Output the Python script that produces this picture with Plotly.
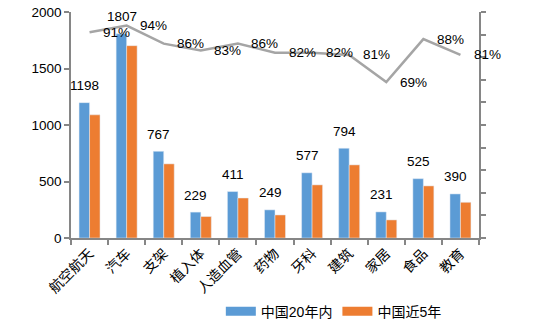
import plotly.graph_objects as go

categories = ["航空航天", "汽车", "支架", "植入体", "人造血管", "药物", "牙科", "建筑", "家居", "食品", "教育"]
china_20y = [1198, 1807, 767, 229, 411, 249, 577, 794, 231, 525, 390]
china_5y = [1090, 1702, 656, 190, 354, 204, 470, 647, 160, 461, 316]
share_pct = [91, 94, 86, 83, 86, 82, 82, 81, 69, 88, 81]
series_names = ["中国20年内", "中国近5年"]

BLUE = "#5b9bd5"
ORANGE = "#ed7d31"
GRAY_LINE = "#a5a5a5"
AXIS = "#868686"
FONT = "Liberation Sans, Noto Sans CJK SC, sans-serif"

fig = go.Figure()
fig.add_trace(go.Bar(x=categories, y=china_20y, marker_color=BLUE, showlegend=False, name=series_names[0]))
fig.add_trace(go.Bar(x=categories, y=china_5y, marker_color=ORANGE, showlegend=False, name=series_names[1]))
fig.add_trace(go.Scatter(x=categories, y=[p / 100 for p in share_pct], yaxis="y2", mode="lines",
                         line=dict(color=GRAY_LINE, width=2.5), showlegend=False, hoverinfo="skip"))
# legend entries
fig.add_trace(go.Scatter(x=[categories[0]], y=[None], mode="lines", line=dict(color=BLUE, width=9), name=series_names[0]))
fig.add_trace(go.Scatter(x=[categories[0]], y=[None], mode="lines", line=dict(color=ORANGE, width=9), name=series_names[1]))

annotations = []
for c, v in zip(categories, china_20y):
    annotations.append(dict(x=c, y=v, xref="x", yref="y", text=str(v), showarrow=False,
                            xshift=-5, yshift=17, font=dict(size=13.5, color="#000000", family=FONT)))
for c, p in zip(categories, share_pct):
    annotations.append(dict(x=c, y=p / 100, xref="x", yref="y2", text=f"{p}%", showarrow=False,
                            xshift=27, yshift=0, font=dict(size=13.5, color="#000000", family=FONT)))

fig.update_layout(
    width=536, height=323,
    margin=dict(l=71, r=57, t=12, b=85, autoexpand=False),
    paper_bgcolor="white", plot_bgcolor="white",
    barmode="group", bargap=0.434, bargroupgap=0,
    font=dict(family=FONT, size=13, color="#000000"),
    xaxis=dict(type="category", categoryorder="array", categoryarray=categories,
               range=[-0.5, len(categories) - 0.5],
               showline=True, linecolor=AXIS, linewidth=1.5, automargin=False,
               ticks="outside", tickson="boundaries", ticklen=5, tickcolor=AXIS, tickwidth=1.5,
               tickangle=-45, tickfont=dict(size=14, color="#000000"), showgrid=False),
    yaxis=dict(range=[0, 2000], dtick=500, showline=True, linecolor=AXIS, linewidth=1.5, automargin=False,
               ticks="outside", ticklen=5, tickcolor=AXIS, tickwidth=1.5, showgrid=False, zeroline=False,
               tickfont=dict(size=13.5, color="#000000")),
    yaxis2=dict(range=[0, 1], dtick=0.1, overlaying="y", side="right", showline=True, linecolor=AXIS,
                linewidth=1.5, ticks="outside", ticklen=5, tickcolor=AXIS, tickwidth=1.5, automargin=False,
                showticklabels=False, showgrid=False, zeroline=False),
    legend=dict(orientation="h", x=0.412, xanchor="left", xref="container", y=0.085, yanchor="top",
                yref="container", font=dict(size=14, color="#000000"), bgcolor="rgba(0,0,0,0)", itemwidth=30),
    annotations=annotations,
)

fig.write_html("out.html")
